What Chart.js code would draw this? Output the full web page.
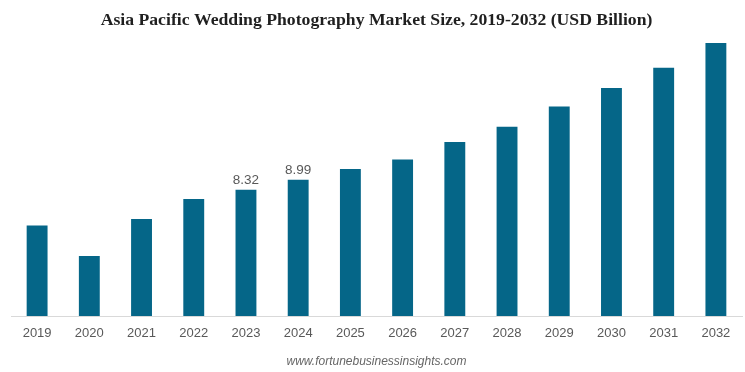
<!DOCTYPE html>
<html>
<head>
<meta charset="utf-8">
<script src="https://cdn.jsdelivr.net/npm/chart.js@4.4.1/dist/chart.umd.min.js"></script>
<style>
  html, body { margin: 0; padding: 0; background: #fff; }
  #wrap { width: 745px; height: 372px; }
</style>
</head>
<body>
<div id="wrap"><canvas id="mychart" width="745" height="372"></canvas></div>
<script>
// data
var years = ['2019', '2020', '2021', '2022', '2023', '2024', '2025', '2026', '2027', '2028', '2029', '2030', '2031', '2032'];
var marketSize = [5.96, 3.96, 6.40, 7.72, 8.32, 8.99, 9.70, 10.32, 11.47, 12.48, 13.82, 15.03, 16.37, 18.0];
var labelledYears = ['2023', '2024'];   // only these bars carry a value label

// draws the value over the labelled bars
var valueLabels = {
    id: 'valueLabels',
    afterDatasetsDraw: function(chart) {
        var ctx = chart.ctx;
        var meta = chart.getDatasetMeta(0);
        ctx.save();
        ctx.font = '13.5px "Liberation Sans", Arial, sans-serif';
        ctx.fillStyle = '#595959';
        ctx.textAlign = 'center';
        ctx.textBaseline = 'bottom';
        meta.data.forEach(function(bar, i) {
            if (labelledYears.indexOf(years[i]) < 0) return;
            ctx.fillText(marketSize[i].toFixed(2), bar.x, bar.y - 3);
        });
        ctx.restore();
    }
};

var ctx = document.getElementById('mychart');
var chart = new Chart(ctx, {
    type: 'bar',
    data: {
        labels: years,
        datasets: [{
            data: marketSize,
            backgroundColor: '#056688',
            barPercentage: 0.4,
            categoryPercentage: 1
        }]
    },
    options: {
        responsive: false,
        animation: false,
        layout: { padding: { left: 11, right: 3, top: 0, bottom: 0 } },
        plugins: {
            legend: { display: false },
            tooltip: { enabled: false },
            title: {
                display: true,
                text: 'Asia Pacific Wedding Photography Market Size, 2019-2032 (USD Billion)',
                color: '#1f1f1f',
                font: { family: '"Liberation Serif", "Times New Roman", serif', size: 17.7, weight: 'bold' },
                padding: { top: 10, bottom: 11.8 }
            },
            subtitle: {
                display: true,
                position: 'bottom',
                text: 'www.fortunebusinessinsights.com',
                color: '#666666',
                font: { family: '"Liberation Sans", Arial, sans-serif', size: 12, style: 'italic' },
                padding: { top: 3, bottom: 3 }
            }
        },
        scales: {
            x: {
                grid: { display: false, drawTicks: false },
                border: { display: true, color: '#d9d9d9', width: 1 },
                ticks: {
                    color: '#595959',
                    padding: 10,
                    font: { family: '"Liberation Sans", Arial, sans-serif', size: 13 }
                }
            },
            y: {
                display: false,
                min: 0,
                max: 18
            }
        }
    },
    plugins: [valueLabels]
});
</script>
</body>
</html>
